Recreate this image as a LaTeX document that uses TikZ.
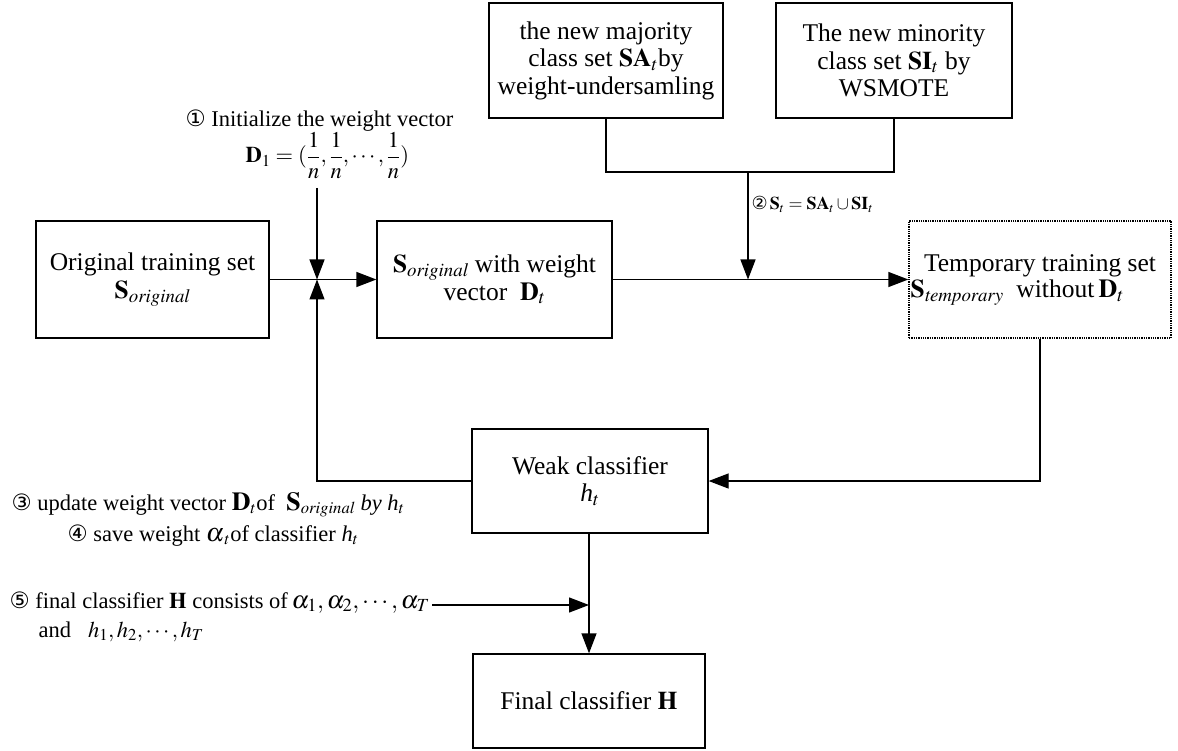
\documentclass[tikz,border=0pt]{standalone}
\usepackage{mathptmx}
\usepackage{fontspec}
\setmainfont{Liberation Serif}
\newfontfamily\symf{DejaVu Sans}
\usetikzlibrary{arrows.meta}
\newcommand{\bigf}[1]{{\fontsize{26}{28}\selectfont#1}}
\newcommand{\dfr}[2]{{\displaystyle\frac{#1}{#2}}}
\begin{document}
\begin{tikzpicture}[x=1pt,y=-1pt,line width=1.3pt,
  box/.style={draw,rectangle,align=center,inner sep=0pt,font=\fontsize{25.5}{27.5}\selectfont},
  dotbox/.style={box,densely dotted},
  txt/.style={inner sep=0pt,font=\fontsize{25.5}{27.5}\selectfont},
  arr/.style={-{Triangle[length=20pt,width=15pt]}},
  note/.style={inner sep=0pt,font=\fontsize{22.5}{26}\selectfont,anchor=base west}]
\useasboundingbox (0,0) rectangle (1178,751);
% boxes
\node[box,minimum width=233pt,minimum height=117pt] (orig) at (152.5,279.5)
  {Original training set\\ $\mathbf{S}_{\mathit{original}}$};
\node[box,minimum width=235pt,minimum height=117pt] (sw) at (494.5,279.5)
  {$\mathbf{S}_{\mathit{original}}$ with weight\\ vector\ \ \bigf{$\mathbf{D}_t$}};
\node[dotbox,minimum width=262pt,minimum height=117pt] (temp) at (1040,279.5) {};
\node[txt,anchor=base] (templ1) at (1040,272) {Temporary training set};
\node[txt,anchor=base west] (templ2) at (910,298)
  {$\mathbf{S}_{\mathit{temporary}}$\ \ without\,\bigf{$\mathbf{D}_t$}};
\node[box,minimum width=234pt,minimum height=115pt] (maj) at (606,60.5)
  {the new majority\\ class set $\mathbf{SA}_t$by\\ weight-undersamling};
\node[box,minimum width=236pt,minimum height=115pt] (mino) at (894,60.5)
  {The new minority\\ class set $\mathbf{SI}_t$ by\\ WSMOTE};
\node[box,minimum width=236pt,minimum height=104pt] (weak) at (590,481)
  {Weak classifier\\ \textit{h}$_t$};
\node[box,minimum width=232pt,minimum height=94pt] (final) at (589,701)
  {Final classifier $\mathbf{H}$};
% annotations
\node[note] (n1) at (185,127) {{\symf ①} Initialize the weight vector};
\node[note] (f1) at (245,163) {$\mathbf{D}_1=(\dfr{1}{n},\dfr{1}{n},\cdots,\dfr{1}{n})$};
\node[note,font=\fontsize{18}{21}\selectfont] (n2) at (751,210) {{\symf ②}$\,\mathbf{S}_t=\mathbf{SA}_t\cup\mathbf{SI}_t$};
\node[note] (n3) at (11,510) {{\symf ③} update weight vector \bigf{$\mathbf{D}$}$_t$of\ \ \bigf{$\mathbf{S}$}$_{\mathit{original}}$ \textit{by h}$_t$};
\node[note] (n4) at (67,541) {{\symf ④} save weight \bigf{$\alpha$}$_t$of classifier \textit{h}$_t$};
\node[note] (n5) at (9,608) {{\symf ⑤} final classifier $\mathbf{H}$ consists of\,{\fontsize{25}{28}\selectfont$\alpha_1,\alpha_2,\cdots,\alpha_T$}};
\node[note] (n6) at (38,637) {and\ \ \ $h_1,h_2,\cdots,h_T$};
% coordinates
\coordinate (jn) at (317,279.5);
\coordinate (i1) at (317,188);
\coordinate (top) at (748,172);
\coordinate (jm) at (748,279.5);
\coordinate (fb) at (317,481);
\coordinate (tc) at (1040,481);
\coordinate (fin) at (589,605);
% connectors
\draw[arr] (orig.east) -- (sw.west);
\draw[arr] (i1) -- (jn);
\draw[arr] (sw.east) -- (temp.west);
\draw (maj.south) |- (top) -| (mino.south);
\draw[arr] (top) -- (jm);
\draw[arr] (weak.west) -- (fb) -- (jn);
\draw[arr] (temp.south) -- (tc) -- (weak.east);
\draw[arr] (weak.south -| fin) -- (final.north -| fin);
\draw[arr] ([xshift=2pt]n5.east |- fin) -- (fin);
\end{tikzpicture}
\end{document}
